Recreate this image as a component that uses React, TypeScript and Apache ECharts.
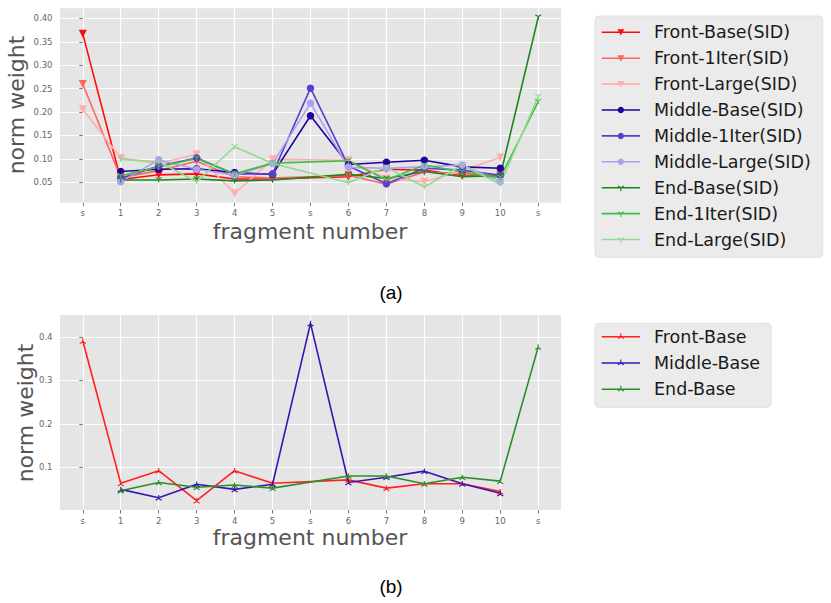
import React, { useEffect, useRef } from 'react';
import * as echarts from 'echarts';

// ---------- data ----------
const xLabels = ['s', '1', '2', '3', '4', '5', 's', '6', '7', '8', '9', '10', 's'];
const frontX = [0, 1, 2, 3, 4, 5, 7, 8, 9, 10, 11];
const middleX = [1, 2, 3, 4, 5, 6, 7, 8, 9, 10, 11];
const endX = [1, 2, 3, 4, 5, 7, 8, 9, 10, 11, 12];

// (a) panel
const frontBase = [0.367, 0.056, 0.066, 0.068, 0.057, 0.057, 0.062, 0.078, 0.076, 0.064, 0.062];
const front1Iter = [0.260, 0.060, 0.075, 0.095, 0.062, 0.059, 0.065, 0.046, 0.072, 0.068, 0.066];
const frontLarge = [0.206, 0.102, 0.090, 0.110, 0.026, 0.099, 0.097, 0.058, 0.051, 0.075, 0.103];
const middleBase = [0.073, 0.078, 0.079, 0.071, 0.067, 0.192, 0.088, 0.093, 0.097, 0.083, 0.080];
const middle1Iter = [0.058, 0.085, 0.102, 0.068, 0.068, 0.251, 0.085, 0.047, 0.080, 0.076, 0.065];
const middleLarge = [0.051, 0.098, 0.078, 0.065, 0.090, 0.219, 0.082, 0.080, 0.083, 0.087, 0.052];
const endBase = [0.055, 0.055, 0.057, 0.053, 0.055, 0.067, 0.058, 0.073, 0.062, 0.064, 0.402];
const end1Iter = [0.064, 0.083, 0.101, 0.068, 0.091, 0.096, 0.055, 0.087, 0.072, 0.060, 0.222];
const endLarge = [0.099, 0.094, 0.051, 0.126, 0.090, 0.049, 0.082, 0.040, 0.087, 0.046, 0.233];

// (b) panel
const frontBaseB = [0.391, 0.063, 0.092, 0.023, 0.092, 0.063, 0.071, 0.052, 0.062, 0.062, 0.044];
const middleBaseB = [0.049, 0.030, 0.061, 0.049, 0.061, 0.431, 0.065, 0.077, 0.091, 0.062, 0.040];
const endBaseB = [0.046, 0.065, 0.054, 0.059, 0.052, 0.080, 0.080, 0.062, 0.077, 0.068, 0.377];

const yTicksA = [0.05, 0.1, 0.15, 0.2, 0.25, 0.3, 0.35, 0.4];
const yTicksB = [0.1, 0.2, 0.3, 0.4];

const namesA = [
  'Front-Base(SID)', 'Front-1Iter(SID)', 'Front-Large(SID)',
  'Middle-Base(SID)', 'Middle-1Iter(SID)', 'Middle-Large(SID)',
  'End-Base(SID)', 'End-1Iter(SID)', 'End-Large(SID)',
];
const namesB = ['Front-Base', 'Middle-Base', 'End-Base'];

const colorsA = ['#ff0a0a', '#ff6464', '#ffadad', '#24009c', '#5a3fcf', '#ada0ee', '#1c861c', '#3fbf3f', '#8fdc8f'];
const colorsB = ['#ff2020', '#3a14b0', '#2a8f2a'];

const TRI_DOWN = 'path://M0,0 L0,10 M0,0 L-8.66,-5 M0,0 L8.66,-5';
const TRI_UP = 'path://M0,0 L0,-10 M0,0 L-8.66,5 M0,0 L8.66,5';

const FONT = 'DejaVu Sans';

function pairs(xs: number[], ys: number[]) {
  return xs.map((x, i) => [x, ys[i]]);
}

type Kind = 'v' | 'o' | 'tri' | 'triup';

function makeSeries(name: string, xs: number[], ys: number[], color: string, kind: Kind, idx: number) {
  const base: any = {
    type: 'line',
    name,
    xAxisIndex: idx,
    yAxisIndex: idx,
    data: pairs(xs, ys),
    lineStyle: { color, width: 1.6 },
    emphasis: { disabled: true },
    silent: true,
  };
  if (kind === 'v') {
    base.symbol = 'triangle';
    base.symbolRotate = 180;
    base.symbolSize = 8;
    base.itemStyle = { color, borderWidth: 0 };
  } else if (kind === 'o') {
    base.symbol = 'circle';
    base.symbolSize = 7.5;
    base.itemStyle = { color, borderWidth: 0 };
  } else {
    base.symbol = kind === 'tri' ? TRI_DOWN : TRI_UP;
    base.symbolKeepAspect = true;
    base.symbolSize = 6;
    base.itemStyle = { color, borderColor: color, borderWidth: 1.1 };
  }
  return base;
}

function xAxisFor(idx: number) {
  const ticks = xLabels.map((_, i) => i);
  return {
    type: 'value',
    gridIndex: idx,
    min: -0.6,
    max: 12.6,
    axisLine: { show: false },
    axisTick: { show: true, customValues: ticks, length: 3.5, lineStyle: { color: '#555', width: 0.8 } },
    axisLabel: {
      customValues: ticks,
      formatter: (v: number) => xLabels[Math.round(v)],
      color: '#666',
      fontSize: 8.5,
      fontFamily: FONT,
      margin: 6,
    },
    splitLine: { show: true, lineStyle: { color: '#ffffff', width: 1.1 } },
  };
}

function yAxisFor(idx: number, min: number, max: number, ticks: number[], digits: number) {
  return {
    type: 'value',
    gridIndex: idx,
    min,
    max,
    axisLine: { show: false },
    axisTick: { show: true, customValues: ticks, length: 3.5, lineStyle: { color: '#555', width: 0.8 } },
    axisLabel: {
      customValues: ticks,
      formatter: (v: number) => v.toFixed(digits),
      color: '#666',
      fontSize: 8.5,
      fontFamily: FONT,
      margin: 7.5,
    },
    splitLine: { show: true, lineStyle: { color: '#ffffff', width: 1.1 } },
  };
}

function legendGraphic(names: string[], colors: string[], kinds: Kind[], box: { x: number; y: number; w: number; h: number }, y0: number, step: number) {
  const children: any[] = [
    {
      type: 'rect',
      shape: { x: box.x, y: box.y, width: box.w, height: box.h, r: 4 },
      style: { fill: '#ebebeb', stroke: '#e0e0e0', lineWidth: 1 },
    },
  ];
  names.forEach((n, i) => {
    const cy = y0 + i * step;
    const c = colors[i];
    const x1 = 601.7;
    const x2 = 640;
    const cx = (x1 + x2) / 2;
    children.push({ type: 'line', shape: { x1, y1: cy, x2, y2: cy }, style: { stroke: c, lineWidth: 1.6 } });
    const k = kinds[i];
    if (k === 'v') {
      children.push({ type: 'polygon', shape: { points: [[cx - 3.5, cy - 3], [cx + 3.5, cy - 3], [cx, cy + 3.2]] }, style: { fill: c } });
    } else if (k === 'o') {
      children.push({ type: 'circle', shape: { cx, cy, r: 3.2 }, style: { fill: c } });
    } else {
      const s = k === 'tri' ? 1 : -1;
      children.push({ type: 'line', shape: { x1: cx, y1: cy, x2: cx, y2: cy + 3.5 * s }, style: { stroke: c, lineWidth: 1.1 } });
      children.push({ type: 'line', shape: { x1: cx, y1: cy, x2: cx - 3, y2: cy - 1.75 * s }, style: { stroke: c, lineWidth: 1.1 } });
      children.push({ type: 'line', shape: { x1: cx, y1: cy, x2: cx + 3, y2: cy - 1.75 * s }, style: { stroke: c, lineWidth: 1.1 } });
    }
    children.push({
      type: 'text',
      x: 654,
      y: cy,
      style: { text: n, fill: '#1a1a1a', fontSize: 17.5, fontFamily: FONT, verticalAlign: 'middle', align: 'left' },
    });
  });
  return children;
}

export default function App() {
  const ref = useRef<HTMLDivElement>(null);
  useEffect(() => {
    if (!ref.current) return;
    const chart = echarts.init(ref.current, null, { renderer: 'svg' });
    const kindsA: Kind[] = ['v', 'v', 'v', 'o', 'o', 'o', 'tri', 'tri', 'tri'];
    const dataA = [frontBase, front1Iter, frontLarge, middleBase, middle1Iter, middleLarge, endBase, end1Iter, endLarge];
    const xsA = [frontX, frontX, frontX, middleX, middleX, middleX, endX, endX, endX];
    const dataB = [frontBaseB, middleBaseB, endBaseB];
    const xsB = [frontX, middleX, endX];

    const series: any[] = [];
    namesA.forEach((n, i) => series.push(makeSeries(n, xsA[i], dataA[i], colorsA[i], kindsA[i], 0)));
    namesB.forEach((n, i) => series.push(makeSeries(n, xsB[i], dataB[i], colorsB[i], 'triup', 1)));

    const axisTitle = (text: string, x: number, y: number, rot: number) => ({
      type: 'text',
      x,
      y,
      rotation: rot,
      style: { text, fill: '#555555', fontSize: 22, fontFamily: FONT, align: 'center', verticalAlign: 'middle' },
    });

    const option: any = {
      animation: false,
      grid: [
        { left: 60, top: 8.3, width: 501, height: 194.4, show: true, backgroundColor: '#e5e5e5', borderWidth: 0 },
        { left: 60, top: 315, width: 501, height: 195, show: true, backgroundColor: '#e5e5e5', borderWidth: 0 },
      ],
      xAxis: [xAxisFor(0), xAxisFor(1)],
      yAxis: [yAxisFor(0, 0.0065, 0.4215, yTicksA, 2), yAxisFor(1, 0.0016, 0.4504, yTicksB, 1)],
      series,
      graphic: [
        axisTitle('fragment number', 310, 231, 0),
        axisTitle('fragment number', 310, 537.5, 0),
        axisTitle('norm weight', 16.5, 105, Math.PI / 2),
        axisTitle('norm weight', 25, 413, Math.PI / 2),
        {
          type: 'text', x: 391, y: 292,
          style: { text: '(a)', fill: '#000', fontSize: 19, fontFamily: 'Liberation Sans', align: 'center', verticalAlign: 'middle' },
        },
        {
          type: 'text', x: 391, y: 586,
          style: { text: '(b)', fill: '#000', fontSize: 19, fontFamily: 'Liberation Sans', align: 'center', verticalAlign: 'middle' },
        },
        ...legendGraphic(namesA, colorsA, kindsA, { x: 595, y: 16, w: 227.7, h: 241.3 }, 32.3, 25.9),
        ...legendGraphic(namesB, colorsB, ['triup', 'triup', 'triup'], { x: 595, y: 323.3, w: 176, h: 84 }, 336.7, 26.3),
      ],
    };
    chart.setOption(option);
    return () => chart.dispose();
  }, []);
  return <div ref={ref} style={{ position: 'absolute', left: 0, top: 0, width: 831, height: 603 }} />;
}
